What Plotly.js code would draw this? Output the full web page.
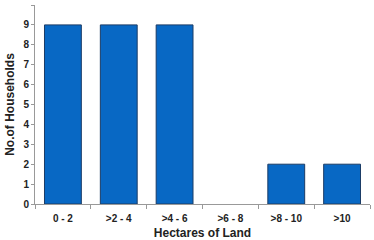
<!DOCTYPE html>
<html><head><meta charset="utf-8">
<script src="https://cdn.plot.ly/plotly-3.0.1.min.js"></script>
<style>html,body{margin:0;padding:0;background:#fff;}#chart{width:374px;height:240px;}</style>
</head><body><div id="chart"></div>
<script>
const categories = ["0 - 2", ">2 - 4", ">4 - 6", ">6 - 8", ">8 - 10", ">10"];
const households = [9, 9, 9, 0, 2, 2];
const yTicks = [0,1,2,3,4,5,6,7,8,9,10];

const font = {family: "Liberation Sans, Arial, sans-serif", color: "#222", size: 10};
Plotly.newPlot("chart", [{
  type: "bar", x: categories, y: households,
  marker: {color: "#0868C4", line: {color: "#1B3C66", width: households.map(v => v > 0 ? 1 : 0)}},
  hoverinfo: "none"
}], {
  width: 374, height: 240,
  margin: {l: 35, r: 4, t: 5, b: 36},
  paper_bgcolor: "#fff", plot_bgcolor: "#fff",
  bargap: 0.34,
  showlegend: false,
  font: font,
  xaxis: {
    type: "category", showline: true, linecolor: "#999", linewidth: 1,
    ticks: "outside", tickson: "boundaries", ticklen: 4, tickcolor: "#999",
    ticklabelstandoff: 5,
    showgrid: false, zeroline: false,
    tickfont: {family: font.family, size: 10, color: "#222", weight: "bold"},
    title: {text: "Hectares of Land", font: {family: font.family, size: 12, color: "#222", weight: "bold"}, standoff: 6}
  },
  yaxis: {
    range: [0, 10], tickvals: yTicks, showline: true, linecolor: "#999", linewidth: 1,
    ticks: "outside", ticklen: 3, tickcolor: "#999",
    showgrid: false, zeroline: false,
    tickfont: {family: font.family, size: 10, color: "#222", weight: "bold"},
    title: {text: "No.of Households", font: {family: font.family, size: 12, color: "#222", weight: "bold"}, standoff: 6}
  }
}, {staticPlot: true, displayModeBar: false});
</script></body></html>
